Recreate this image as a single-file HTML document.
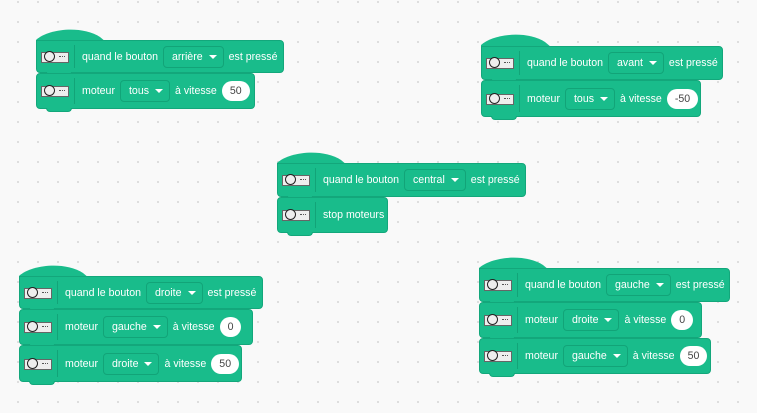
<!DOCTYPE html>
<html><head><meta charset="utf-8"><style>
body{margin:0;width:757px;height:413px;overflow:hidden;background:#f9f9f9;background-image:radial-gradient(#dcdcdc 1px,transparent 1.2px);background-size:20px 20px;background-position:8px 12px;font-family:"Liberation Sans",sans-serif;position:relative}
.b{position:absolute;background:#19bc8b;border:1px solid #13a77b;border-radius:4px;box-sizing:border-box;color:#fff;font-size:10.6px;display:flex;align-items:center;white-space:nowrap}
.tab{position:absolute;left:9px;bottom:-4px;width:26px;height:4px;background:#19bc8b;border:1px solid #13a77b;border-top:none;border-radius:0 0 4px 4px;box-sizing:border-box}
.ic{position:absolute;left:4px;top:50%;margin-top:-5px;width:28px;height:11px;background:#eee;border:1px solid #666;box-sizing:border-box}
.ic:before{content:"";position:absolute;left:2px;top:-2px;width:11px;height:11px;border:1.5px solid #222;border-radius:50%;box-sizing:border-box;background:#eee}
.ic:after{content:"";position:absolute;right:3px;top:3px;width:6px;height:1px;border-top:1.5px dotted #555}
.sep{position:absolute;left:37px;top:4px;bottom:4px;width:1px;background:#12a478}
.c{position:absolute;left:45px;display:flex;align-items:center;gap:5px}
.d{border:1px solid #12a478;border-radius:4px;height:22px;box-sizing:border-box;display:flex;align-items:center;padding:0 6px 0 8px}
.d:after{content:"";margin-left:6px;border-left:4px solid transparent;border-right:4px solid transparent;border-top:4px solid #fff}
.n{background:#fff;color:#444;border-radius:10px;height:20px;display:flex;align-items:center;padding:0 8px}
svg.h{position:absolute}
</style></head><body>

<svg class="h" style="left:36px;top:28px" width="75" height="14"><path d="M0 14 L0 12 C12 1 45 -3 64 9 L70 14 Z" fill="#19bc8b"/></svg>
<div class="b" style="left:36px;top:40px;width:248px;height:33px;border-top-left-radius:0"><span class="ic"></span><span class="sep"></span><div class="c"><span>quand le bouton</span><span class="d">arrière</span><span>est pressé</span></div><span class="tab"></span></div>
<div class="b" style="left:36px;top:73px;width:219px;height:36px"><span class="ic"></span><span class="sep"></span><div class="c"><span>moteur</span><span class="d">tous</span><span>à vitesse</span><span class="n">50</span></div><span class="tab"></span></div>

<svg class="h" style="left:481px;top:33px" width="75" height="14"><path d="M0 14 L0 12 C12 1 45 -3 64 9 L70 14 Z" fill="#19bc8b"/></svg>
<div class="b" style="left:481px;top:46px;width:242px;height:34px;border-top-left-radius:0"><span class="ic"></span><span class="sep"></span><div class="c"><span>quand le bouton</span><span class="d">avant</span><span>est pressé</span></div><span class="tab"></span></div>
<div class="b" style="left:481px;top:80px;width:220px;height:37px"><span class="ic"></span><span class="sep"></span><div class="c"><span>moteur</span><span class="d">tous</span><span>à vitesse</span><span class="n">-50</span></div><span class="tab"></span></div>

<svg class="h" style="left:277px;top:151px" width="75" height="14"><path d="M0 14 L0 12 C12 1 45 -3 64 9 L70 14 Z" fill="#19bc8b"/></svg>
<div class="b" style="left:277px;top:163px;width:249px;height:34px;border-top-left-radius:0"><span class="ic"></span><span class="sep"></span><div class="c"><span>quand le bouton</span><span class="d">central</span><span>est pressé</span></div><span class="tab"></span></div>
<div class="b" style="left:277px;top:197px;width:111px;height:36px"><span class="ic"></span><span class="sep"></span><div class="c"><span>stop moteurs</span></div><span class="tab"></span></div>

<svg class="h" style="left:19px;top:264px" width="75" height="14"><path d="M0 14 L0 12 C12 1 45 -3 64 9 L70 14 Z" fill="#19bc8b"/></svg>
<div class="b" style="left:19px;top:276px;width:244px;height:33px;border-top-left-radius:0"><span class="ic"></span><span class="sep"></span><div class="c"><span>quand le bouton</span><span class="d">droite</span><span>est pressé</span></div><span class="tab"></span></div>
<div class="b" style="left:19px;top:309px;width:234px;height:36px"><span class="ic"></span><span class="sep"></span><div class="c"><span>moteur</span><span class="d">gauche</span><span>à vitesse</span><span class="n">0</span></div><span class="tab"></span></div>
<div class="b" style="left:19px;top:345px;width:223px;height:37px"><span class="ic"></span><span class="sep"></span><div class="c"><span>moteur</span><span class="d">droite</span><span>à vitesse</span><span class="n">50</span></div><span class="tab"></span></div>

<svg class="h" style="left:479px;top:256px" width="75" height="14"><path d="M0 14 L0 12 C12 1 45 -3 64 9 L70 14 Z" fill="#19bc8b"/></svg>
<div class="b" style="left:479px;top:268px;width:251px;height:34px;border-top-left-radius:0"><span class="ic"></span><span class="sep"></span><div class="c"><span>quand le bouton</span><span class="d">gauche</span><span>est pressé</span></div><span class="tab"></span></div>
<div class="b" style="left:479px;top:302px;width:223px;height:36px"><span class="ic"></span><span class="sep"></span><div class="c"><span>moteur</span><span class="d">droite</span><span>à vitesse</span><span class="n">0</span></div><span class="tab"></span></div>
<div class="b" style="left:479px;top:338px;width:232px;height:36px"><span class="ic"></span><span class="sep"></span><div class="c"><span>moteur</span><span class="d">gauche</span><span>à vitesse</span><span class="n">50</span></div><span class="tab"></span></div>

</body></html>
